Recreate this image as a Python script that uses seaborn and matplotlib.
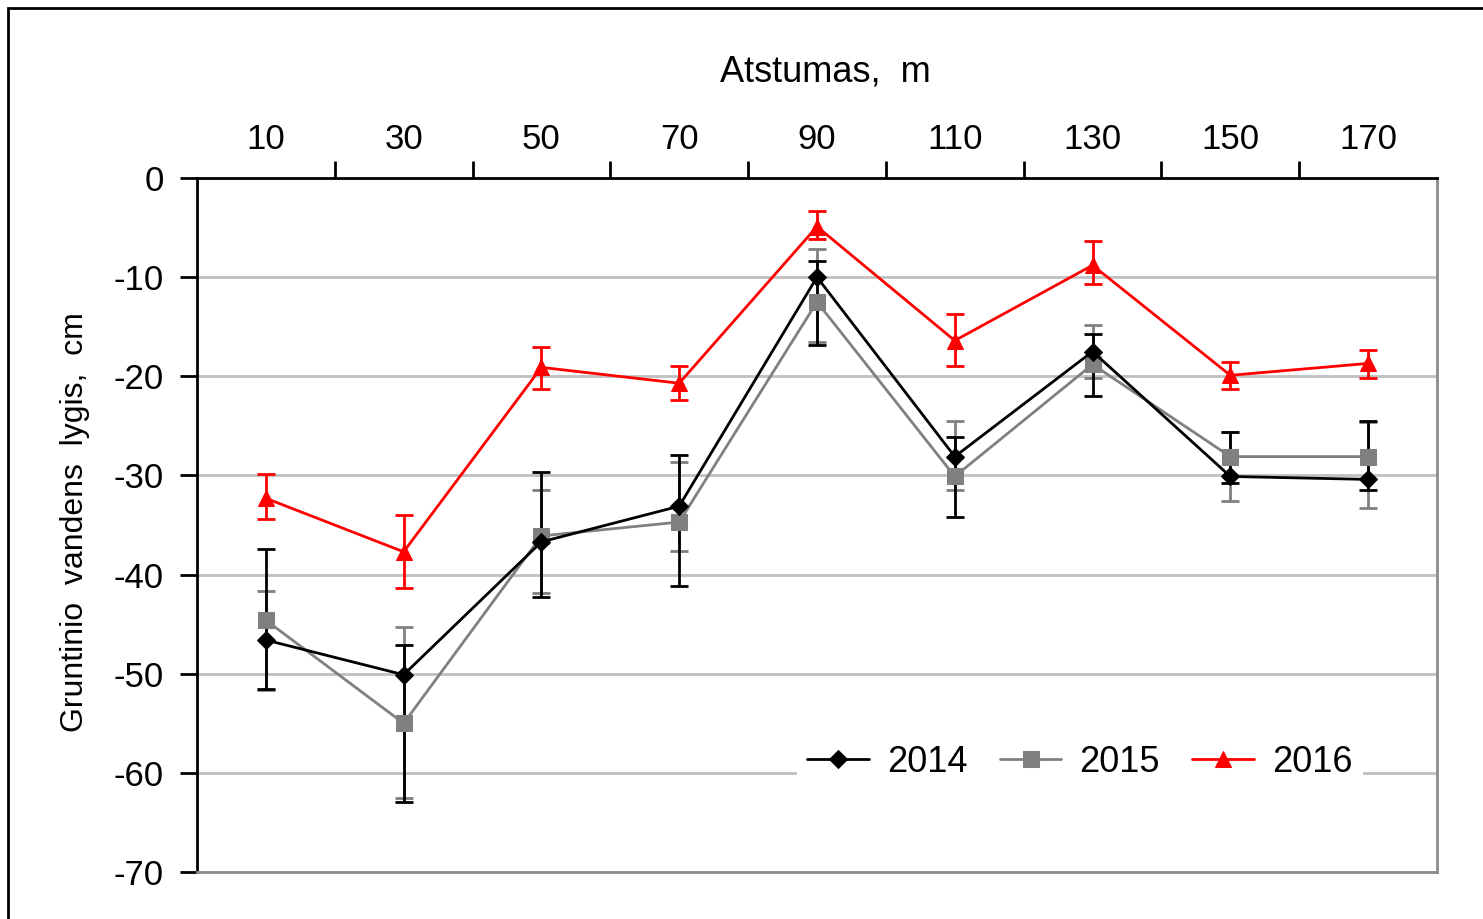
import pandas as pd
import matplotlib
matplotlib.use('Agg')
import matplotlib.pyplot as plt
from matplotlib.patches import Rectangle
import seaborn as sns

# distances along the transect, m
distance = [10, 30, 50, 70, 90, 110, 130, 150, 170]

# mean groundwater level, cm
level_2014 = [-46.6, -50.1, -36.7, -33.1, -10.0, -28.1, -17.5, -30.1, -30.4]
level_2015 = [-44.6, -55.0, -36.1, -34.7, -12.5, -30.1, -18.8, -28.1, -28.1]
level_2016 = [-32.3, -37.7, -19.1, -20.7, -4.9, -16.4, -8.8, -19.9, -18.7]

# error bar ends (upper / lower), cm
upper_2014 = [-37.4, -47.1, -29.7, -27.9, -8.4, -26.1, -15.7, -25.6, -24.5]
lower_2014 = [-51.5, -62.9, -42.3, -41.2, -16.8, -34.2, -22.0, -30.8, -31.5]
upper_2015 = [-41.7, -45.3, -31.5, -28.6, -7.2, -24.5, -14.8, -25.6, -24.6]
lower_2015 = [-51.6, -62.5, -41.9, -37.6, -16.5, -31.5, -20.2, -32.6, -33.3]
upper_2016 = [-29.9, -34.0, -17.0, -19.0, -3.3, -13.7, -6.4, -18.6, -17.3]
lower_2016 = [-34.4, -41.4, -21.3, -22.4, -6.2, -19.0, -10.7, -21.3, -20.2]

years = ['2014', '2015', '2016']

df = pd.DataFrame({
    'distance': distance * 3,
    'level': level_2014 + level_2015 + level_2016,
    'upper': upper_2014 + upper_2015 + upper_2016,
    'lower': lower_2014 + lower_2015 + lower_2016,
    'year': [y for y in years for _ in distance],
})

colors = {'2014': '#000000', '2015': '#808080', '2016': '#ff0000'}
markers = {'2014': 'D', '2015': 's', '2016': '^'}
msizes = {'2014': 9, '2015': 11, '2016': 12}

sns.set_theme(style='white')
plt.rcParams['font.family'] = ['Liberation Sans', 'DejaVu Sans']
plt.rcParams['axes.unicode_minus'] = False
for key in ['text.color', 'axes.labelcolor', 'xtick.color', 'ytick.color']:
    plt.rcParams[key] = 'black'

fig = plt.figure(figsize=(14.83, 9.19), dpi=100)
ax = fig.add_axes([0.1328, 0.0511, 0.8362, 0.7552])

# outer chart border (only top / left visible)
fig.patches.append(Rectangle((8 / 1483, -0.2), 1.2, 1.2 - 8 / 919,
                             transform=fig.transFigure, fill=False,
                             edgecolor='black', linewidth=2))

# error bars: grey first, black over it, red last
zo = {'2015': 3, '2014': 4, '2016': 6}
for yr in years:
    d = df[df['year'] == yr]
    err = [d['level'] - d['lower'], d['upper'] - d['level']]
    ax.errorbar(d['distance'], d['level'], yerr=err, fmt='none',
                ecolor=colors[yr], elinewidth=2, capsize=6.5, capthick=2,
                zorder=zo[yr])

for yr in years:
    d = df[df['year'] == yr]
    sns.lineplot(data=d, x='distance', y='level', ax=ax, color=colors[yr],
                 marker=markers[yr], markersize=msizes[yr],
                 markeredgecolor=colors[yr], linewidth=2, label=yr,
                 zorder=zo[yr] + 1)

ax.set_xlim(0, 180)
ax.set_ylim(-70, 0)

ax.xaxis.tick_top()
ax.xaxis.set_label_position('top')
ax.set_xticks(list(range(20, 180, 20)))
ax.set_xticklabels([])
ax.set_xticks(distance, minor=True)
ax.set_xticklabels([str(v) for v in distance], minor=True)
ax.tick_params(axis='x', which='major', top=True, bottom=False, direction='out',
               length=12, width=2, color='black')
ax.tick_params(axis='x', which='minor', top=True, bottom=False, length=0,
               labelsize=25, pad=16, labeltop=True, labelbottom=False)

ax.set_yticks(list(range(-70, 1, 10)))
ax.tick_params(axis='y', left=True, direction='out', length=12, width=2,
               color='black', labelsize=25, pad=12)

ax.yaxis.grid(True, color='#c0c0c0', linewidth=2)
ax.xaxis.grid(False)

for side in ['left', 'top']:
    ax.spines[side].set_color('black')
    ax.spines[side].set_linewidth(2)
for side in ['right', 'bottom']:
    ax.spines[side].set_color('#8c8c8c')
    ax.spines[side].set_linewidth(2)

ax.set_xlabel('Atstumas,  m', fontsize=26)
ax.xaxis.set_label_coords(0.507, 1.153)
ax.xaxis.label.set_va('center')
ax.set_ylabel('Gruntinio  vandens  lygis,  cm', fontsize=23)
ax.yaxis.set_label_coords(-0.098, 0.504)
ax.yaxis.label.set_va('center')

leg = ax.legend(loc='center', bbox_to_anchor=(0.712, 0.158), ncol=3,
                fontsize=26, frameon=True, facecolor='white', edgecolor='none',
                framealpha=1, handlelength=1.7, handletextpad=0.5,
                columnspacing=0.9, borderpad=0.3)
leg.set_zorder(10)

fig.savefig('out.png', dpi=100)
